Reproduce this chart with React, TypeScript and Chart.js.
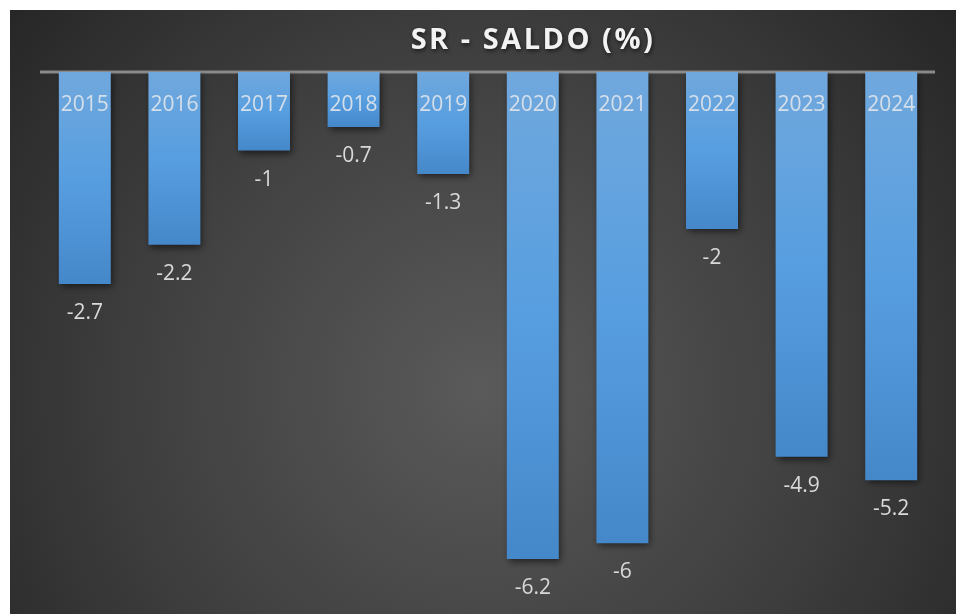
import React, { useEffect, useRef } from "react";
import { Chart, registerables } from "chart.js";

Chart.register(...registerables);

const categories = ["2015", "2016", "2017", "2018", "2019", "2020", "2021", "2022", "2023", "2024"];
const saldo = [-2.7, -2.2, -1, -0.7, -1.3, -6.2, -6, -2, -4.9, -5.2];
const chartTitle = "SR - SALDO (%)";

const W = 956;
const H = 614;

export default function App() {
  const ref = useRef<HTMLCanvasElement | null>(null);

  useEffect(() => {
    const canvas = ref.current!;
    const bgPlugin = {
      id: "bg",
      beforeDraw(chart: any) {
        const c = chart.ctx;
        c.save();
        const g = c.createRadialGradient(480, 390, 0, 480, 390, 620);
        g.addColorStop(0, "#5a5a5a");
        g.addColorStop(0.55, "#3f3f3f");
        g.addColorStop(1, "#252525");
        c.fillStyle = g;
        c.fillRect(10, 10, W - 10, H - 10);
        // title
        c.font = "bold 29px 'Open Sans', sans-serif";
        (c as any).letterSpacing = "2.5px";
        c.fillStyle = "#f2f2f2";
        c.textAlign = "center";
        c.textBaseline = "middle";
        c.shadowColor = "rgba(0,0,0,0.6)";
        c.shadowBlur = 4;
        c.shadowOffsetX = 1;
        c.shadowOffsetY = 2;
        c.fillText(chartTitle, 533, 41);
        c.restore();
      },
      beforeDatasetsDraw(chart: any) {
        const c = chart.ctx;
        const y0 = chart.scales.y.getPixelForValue(0);
        c.save();
        c.strokeStyle = "#8a8a8a";
        c.lineWidth = 3;
        c.beginPath();
        c.moveTo(40, y0);
        c.lineTo(935, y0);
        c.stroke();
        c.shadowColor = "rgba(0,0,0,0.55)";
        c.shadowBlur = 7;
        c.shadowOffsetX = 2;
        c.shadowOffsetY = 3;
      },
      afterDatasetsDraw(chart: any) {
        const c = chart.ctx;
        c.restore();
        c.save();
        const y0 = chart.scales.y.getPixelForValue(0);
        const meta = chart.getDatasetMeta(0);
        c.textAlign = "center";
        c.textBaseline = "middle";
        c.font = "21px 'Open Sans', sans-serif";
        meta.data.forEach((bar: any, i: number) => {
          c.fillStyle = "rgba(225,230,235,0.9)";
          c.fillText(categories[i], bar.x, y0 + 33);
          c.fillStyle = "#d9d9d9";
          c.fillText(String(saldo[i]), bar.x, bar.y + 29);
        });
        c.restore();
      },
    };

    const chart = new Chart(canvas, {
      type: "bar",
      data: {
        labels: categories,
        datasets: [
          {
            data: saldo,
            backgroundColor: (ctx: any) => {
              const ch = ctx.chart;
              const ys = ch.scales && ch.scales.y;
              if (!ys || !ch.chartArea) return "#559de0";
              const v = saldo[ctx.dataIndex];
              const top = ys.getPixelForValue(0);
              const bot = ys.getPixelForValue(v);
              if (!isFinite(top) || !isFinite(bot) || v === undefined) return "#559de0";
              const g = ch.ctx.createLinearGradient(0, top, 0, bot);
              g.addColorStop(0, "#70a8dd");
              g.addColorStop(0.5, "#579ee0");
              g.addColorStop(1, "#4588ca");
              return g;
            },
            borderWidth: 0,
            barPercentage: 0.58,
            categoryPercentage: 1,
          },
        ],
      },
      options: {
        responsive: false,
        animation: false,
        devicePixelRatio: 1,
        layout: { padding: { left: 40, right: 20, top: 72, bottom: 8 } },
        plugins: { legend: { display: false }, tooltip: { enabled: false }, title: { display: false } },
        scales: {
          x: { display: false, offset: true },
          y: { display: false, min: -6.8, max: 0 },
        },
      },
      plugins: [bgPlugin],
    });
    return () => chart.destroy();
  }, []);

  return (
    <canvas
      ref={ref}
      width={W}
      height={H}
      style={{ position: "fixed", left: 0, top: 0, width: W, height: H }}
    />
  );
}
